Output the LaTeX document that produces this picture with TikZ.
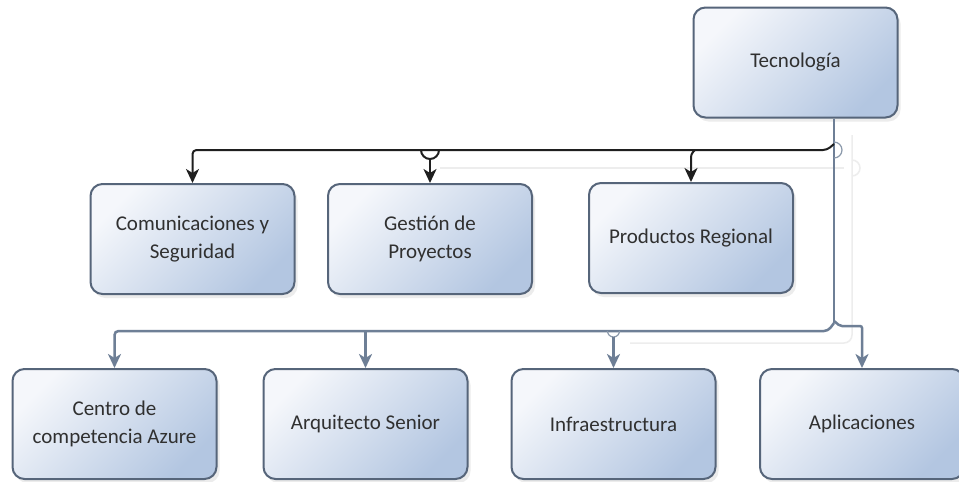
\documentclass[tikz,border=0pt]{standalone}
\usepackage{fontspec}
\setmainfont{Carlito}
\usetikzlibrary{arrows.meta,shadows}
\definecolor{boxline}{HTML}{56657A}
\definecolor{boxlight}{HTML}{F5F7FB}
\definecolor{boxblue}{HTML}{B3C6E1}
\definecolor{trunkgray}{HTML}{6E7F96}
\definecolor{textgray}{HTML}{303030}

\begin{document}
\begin{tikzpicture}[x=1pt, y=-1pt,
   every node/.style={font=\fontsize{21}{28}\selectfont, text=textgray, align=center},
   unitbox/.style={draw=boxline, line width=2pt, rounded corners=12pt,
       minimum width=204pt, minimum height=110pt,
       top color=boxlight, bottom color=boxblue, shading angle=45,
       drop shadow={opacity=0.15, shadow xshift=3pt, shadow yshift=-4pt}},
   busline/.style={draw=black!88, line width=2pt,
       -{Stealth[length=14pt, width=13pt, inset=4pt]}},
   trunkline/.style={draw=trunkgray, line width=2.5pt,
       -{Stealth[length=14pt, width=13pt, inset=4pt]}},
   hop/.style={draw=trunkgray!80, line width=1.2pt},
   ghost/.style={draw=black!7, line width=1.5pt}]

\clip (0,0) rectangle (959,482);
\fill[white] (0,0) rectangle (959,482);

% faint routing lines
\draw[ghost, rounded corners=8pt] (852,135) -- (852,343) -- (630,343);
\draw[ghost] (440,168) -- (844,168);
\draw[ghost] (852,160) arc[start angle=-90, end angle=90, radius=8];

% units
\node[unitbox] (tec) at (795.5,62.5) {Tecnología};

\node[unitbox] (com) at (192.5,239) {Comunicaciones y\\Seguridad};
\node[unitbox] (ges) at (430,239) {Gestión de\\Proyectos};
\node[unitbox] (pro) at (691,238) {Productos Regional};

\node[unitbox] (cen) at (114.5,424) {Centro de\\competencia Azure};
\node[unitbox] (arq) at (365.5,424) {Arquitecto Senior};
\node[unitbox] (inf) at (613.5,424) {Infraestructura};
\node[unitbox] (apl) at (862,424) {Aplicaciones};

\coordinate (trunk) at (834,0);
\coordinate (midbus) at (0,150);
\coordinate (lowbus) at (0,331);

% trunk from Tecnologia
\draw[trunkline, -] (tec.south -| trunk) -- (834,323) coordinate (knee);
\draw[hop] (trunk |- 0,142) arc[start angle=-90, end angle=90, radius=8];

% black bus to the middle row
\draw[busline, rounded corners=4pt] (trunk |- 0,144) -- (827,150) -| (com.north);
\draw[busline, -] (ges.north |- midbus) ++(-9,0) arc[start angle=180, end angle=0, radius=9];
\draw[busline] (ges.north |- midbus) ++(0,9) -- (ges.north);
\draw[busline, rounded corners=3pt] (pro.north |- midbus) ++(4,0) -- ++(-4,4) -- (pro.north);

% gray bus to the bottom row
\draw[trunkline, rounded corners=4pt] (knee) -- (828,331) -| (cen.north);
\draw[trunkline] (arq.north |- lowbus) -- (arq.north);
\draw[hop] (inf.north |- lowbus) ++(-6,0) arc[start angle=180, end angle=0, radius=6];
\draw[trunkline] (inf.north |- lowbus) ++(0,6) -- (inf.north);
\draw[trunkline, rounded corners=2pt] (knee) ++(0,-2) -- ++(6,5) -| (apl.north);

\end{tikzpicture}
\end{document}
